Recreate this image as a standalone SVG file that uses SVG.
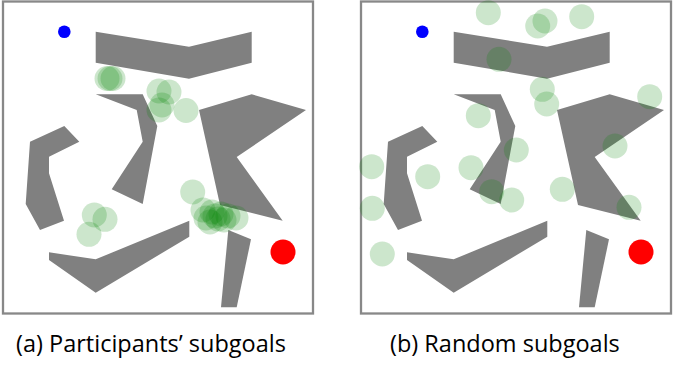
<svg xmlns="http://www.w3.org/2000/svg" xmlns:xlink="http://www.w3.org/1999/xlink" width="673" height="372" viewBox="0 0 673 372">
<style>
.frame{fill:#fff;stroke:#888;stroke-width:2.3}
.obs{fill:#808080}
.sg{fill:#008000;fill-opacity:0.2}
.lbl{font-family:"Open Sans","Noto Sans",sans-serif;font-size:23.5px;fill:#000}
</style>
<defs>
<g id="map">
<rect class="frame" x="3" y="1.5" width="310" height="312"/>
<polygon class="obs" points="95.7,31.7 189,46.7 251.7,31.7 251.7,62.7 189,78.7 95.7,62.7"/>
<polygon class="obs" points="95.7,94.3 142.7,94.3 157.3,126 142.7,204 111.7,189.3 142.7,141.7 136.7,110"/>
<polygon class="obs" points="30,141.7 64.3,126 79.3,141.7 49,156.7 49,173.3 64,220.7 40,230 25.7,204"/>
<polygon class="obs" points="199,110 251.7,94.3 306,110 236.7,157 282.7,220.7 220,205"/>
<polygon class="obs" points="49,252.3 95.7,259.3 189.3,220.7 189.3,236.7 95.7,292.7 49,260"/>
<polygon class="obs" points="228.3,230 251,239.3 236.7,307.3 221,307.3"/>
<circle cx="64.3" cy="31.7" r="6.3" fill="#0000ff"/>
<circle cx="283" cy="252" r="12.5" fill="#ff0000"/>
</g>
</defs>
<g id="panel-a">
<use xlink:href="#map" href="#map"/>
<g id="subgoals-a">
<circle class="sg" cx="107" cy="78.5" r="12.5"/>
<circle class="sg" cx="110" cy="78.5" r="12.5"/>
<circle class="sg" cx="113" cy="78.5" r="12.5"/>
<circle class="sg" cx="159" cy="91" r="12.5"/>
<circle class="sg" cx="169" cy="92" r="12.5"/>
<circle class="sg" cx="162" cy="105" r="12.5"/>
<circle class="sg" cx="159" cy="110" r="12.5"/>
<circle class="sg" cx="186" cy="110.5" r="12.5"/>
<circle class="sg" cx="192.7" cy="192" r="12.5"/>
<circle class="sg" cx="94.3" cy="215" r="12.5"/>
<circle class="sg" cx="105" cy="219.3" r="12.5"/>
<circle class="sg" cx="89" cy="234.3" r="12.5"/>
<circle class="sg" cx="203" cy="210" r="12.5"/>
<circle class="sg" cx="206" cy="218" r="12.5"/>
<circle class="sg" cx="210" cy="222" r="12.5"/>
<circle class="sg" cx="212" cy="212" r="12.5"/>
<circle class="sg" cx="215" cy="216" r="12.5"/>
<circle class="sg" cx="218" cy="219" r="12.5"/>
<circle class="sg" cx="221" cy="214" r="12.5"/>
<circle class="sg" cx="224" cy="220" r="12.5"/>
<circle class="sg" cx="228" cy="216" r="12.5"/>
<circle class="sg" cx="236" cy="218" r="12.5"/>
</g>
<text class="lbl" x="16" y="351.5">(a) Participants’ subgoals</text>
</g>
<g id="panel-b">
<use xlink:href="#map" href="#map" transform="translate(358,0)"/>
<g id="subgoals-b" transform="translate(358,0)">
<circle class="sg" cx="130.3" cy="12.7" r="12.5"/>
<circle class="sg" cx="179.7" cy="26" r="12.5"/>
<circle class="sg" cx="187" cy="21" r="12.5"/>
<circle class="sg" cx="223.7" cy="16.7" r="12.5"/>
<circle class="sg" cx="141" cy="59.3" r="12.5"/>
<circle class="sg" cx="184.3" cy="89.3" r="12.5"/>
<circle class="sg" cx="188.7" cy="104" r="12.5"/>
<circle class="sg" cx="120.3" cy="115.7" r="12.5"/>
<circle class="sg" cx="291.7" cy="96.7" r="12.5"/>
<circle class="sg" cx="158.3" cy="150" r="12.5"/>
<circle class="sg" cx="257" cy="146" r="12.5"/>
<circle class="sg" cx="13.7" cy="166.7" r="12.5"/>
<circle class="sg" cx="69.7" cy="176.7" r="12.5"/>
<circle class="sg" cx="113" cy="167.7" r="12.5"/>
<circle class="sg" cx="133.7" cy="191.7" r="12.5"/>
<circle class="sg" cx="153.7" cy="200" r="12.5"/>
<circle class="sg" cx="204.3" cy="189.3" r="12.5"/>
<circle class="sg" cx="271" cy="207.3" r="12.5"/>
<circle class="sg" cx="14.3" cy="208.3" r="12.5"/>
<circle class="sg" cx="24.3" cy="254" r="12.5"/>
</g>
<text class="lbl" x="390" y="351.5">(b) Random subgoals</text>
</g>
</svg>
